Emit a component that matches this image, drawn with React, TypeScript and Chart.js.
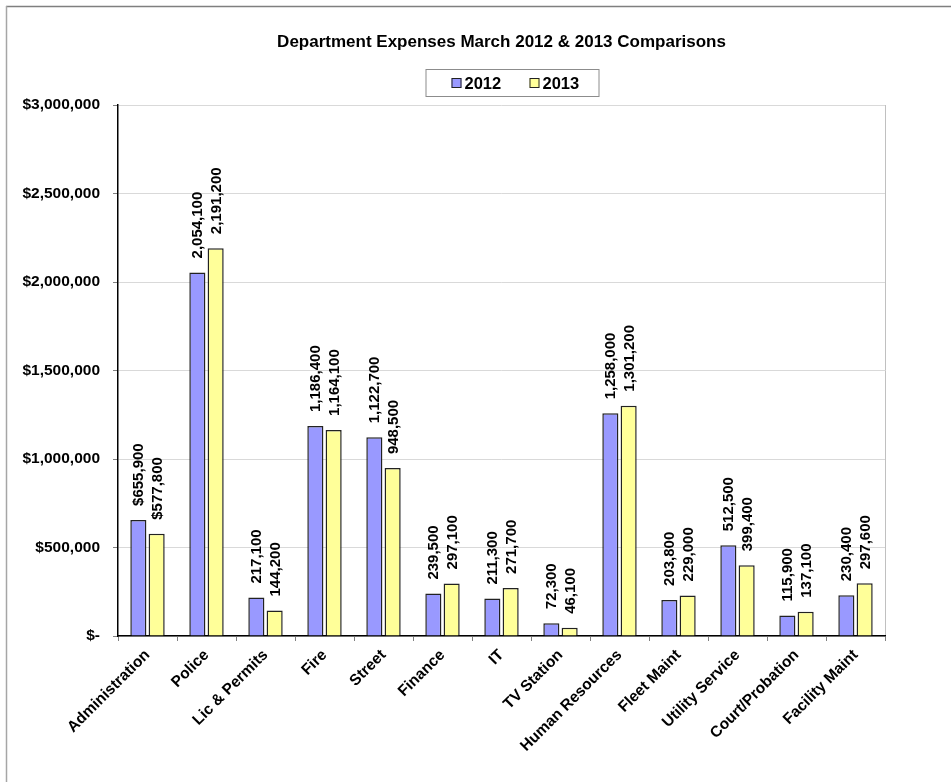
import React, { useEffect, useRef } from "react";
import { Chart, registerables } from "chart.js";

Chart.register(...registerables);

const categories = [
  "Administration",
  "Police",
  "Lic & Permits",
  "Fire",
  "Street",
  "Finance",
  "IT",
  "TV Station",
  "Human Resources",
  "Fleet Maint",
  "Utility Service",
  "Court/Probation",
  "Facility Maint",
];

const values2012 = [655900, 2054100, 217100, 1186400, 1122700, 239500, 211300, 72300, 1258000, 203800, 512500, 115900, 230400];
const values2013 = [577800, 2191200, 144200, 1164100, 948500, 297100, 271700, 46100, 1301200, 229000, 399400, 137100, 297600];

// categories whose data labels are shown in currency format
const currencyLabelCategories = ["Administration"];

const seriesNames = ["2012", "2013"];
const yTickValues = [0, 500000, 1000000, 1500000, 2000000, 2500000, 3000000];

const FONT = "Arial, 'Liberation Sans', sans-serif";

const fmt = (v: number) => v.toLocaleString("en-US");

const framePlugin = {
  id: "frame",
  beforeDraw(chart: any) {
    const { ctx, width, height, chartArea } = chart;
    ctx.save();
    ctx.fillStyle = "#ffffff";
    ctx.fillRect(0, 0, width, height);
    ctx.lineWidth = 1.5;
    ctx.strokeStyle = "#7f7f7f";
    ctx.beginPath();
    ctx.moveTo(6, 6.5);
    ctx.lineTo(width, 6.5);
    ctx.stroke();
    ctx.strokeStyle = "#a6a6a6";
    ctx.beginPath();
    ctx.moveTo(6.5, 6);
    ctx.lineTo(6.5, height);
    ctx.stroke();
    // plot area right border
    ctx.lineWidth = 1;
    ctx.strokeStyle = "#c0c0c0";
    ctx.beginPath();
    ctx.moveTo(chartArea.right + 0.5, chartArea.top);
    ctx.lineTo(chartArea.right + 0.5, chartArea.bottom);
    ctx.stroke();
    ctx.restore();
  },
};

const legendPlugin = {
  id: "boxLegend",
  afterDraw(chart: any) {
    const { ctx } = chart;
    const cx = 512.5;
    const top = 69.5;
    const w = 173;
    const h = 27;
    ctx.save();
    ctx.strokeStyle = "#8c8c8c";
    ctx.lineWidth = 1;
    ctx.strokeRect(cx - w / 2, top, w, h);
    ctx.font = `bold 16.5px ${FONT}`;
    ctx.textBaseline = "middle";
    ctx.textAlign = "left";
    const itemX = [cx - 61, cx + 17];
    chart.data.datasets.forEach((ds: any, i: number) => {
      const x = itemX[i];
      const y = top + h / 2;
      ctx.fillStyle = ds.backgroundColor;
      ctx.fillRect(x, y - 5, 10, 10);
      ctx.strokeStyle = "#222";
      ctx.strokeRect(x + 0.5, y - 4.5, 9, 9);
      ctx.fillStyle = "#000";
      ctx.fillText(ds.label, x + 13, y + 1);
    });
    ctx.restore();
  },
};

const dataLabelPlugin = {
  id: "dataLabels",
  afterDatasetsDraw(chart: any) {
    const { ctx } = chart;
    ctx.save();
    ctx.font = `bold 15px ${FONT}`;
    ctx.fillStyle = "#000";
    ctx.textAlign = "left";
    ctx.textBaseline = "middle";
    chart.data.datasets.forEach((ds: any, di: number) => {
      const meta = chart.getDatasetMeta(di);
      meta.data.forEach((el: any, i: number) => {
        const v = ds.data[i];
        const cat = chart.data.labels[i];
        const txt = (currencyLabelCategories.includes(cat) ? "$" : "") + fmt(v);
        ctx.save();
        ctx.translate(el.x + 1, el.y - 14);
        ctx.rotate(-Math.PI / 2);
        ctx.fillText(txt, 0, 0);
        ctx.restore();
      });
    });
    ctx.restore();
  },
};

export default function App() {
  const ref = useRef<HTMLCanvasElement | null>(null);

  useEffect(() => {
    document.body.style.margin = "0";
    if (!ref.current) return;
    const chart = new Chart(ref.current, {
      type: "bar",
      data: {
        labels: categories,
        datasets: [
          {
            label: seriesNames[0],
            data: values2012,
            backgroundColor: "#9999ff",
            borderColor: "#222222",
            borderWidth: 1.5,
            categoryPercentage: 0.62,
            barPercentage: 0.88,
          },
          {
            label: seriesNames[1],
            data: values2013,
            backgroundColor: "#ffff99",
            borderColor: "#222222",
            borderWidth: 1.5,
            categoryPercentage: 0.62,
            barPercentage: 0.88,
          },
        ],
      },
      options: {
        animation: false,
        responsive: false,
        maintainAspectRatio: false,
        devicePixelRatio: 1,
        layout: { padding: { top: 0, right: 66, bottom: 0, left: 0 } },
        plugins: {
          legend: { display: false },
          tooltip: { enabled: false },
          title: {
            display: true,
            fullSize: false,
            text: "Department Expenses March 2012 & 2013 Comparisons",
            color: "#000",
            font: { family: FONT, size: 17, weight: "bold", lineHeight: 1.2 },
            padding: { top: 32.5, bottom: 52.1 },
          },
        },
        scales: {
          x: {
            afterFit(scale: any) {
              scale.height = 146;
            },
            grid: {
              display: true,
              drawOnChartArea: false,
              drawTicks: true,
              tickLength: 5,
              tickColor: "#808080",
              offset: true,
            },
            border: { display: true, color: "#000", width: 1.5 },
            ticks: {
              autoSkip: false,
              maxRotation: 45,
              minRotation: 45,
              padding: 5,
              color: "#000",
              font: { family: FONT, size: 15.5, weight: "bold" },
            },
          },
          y: {
            min: 0,
            max: 3000000,
            afterFit(scale: any) {
              scale.width = 118;
            },
            afterBuildTicks(scale: any) {
              scale.ticks = yTickValues.map((v) => ({ value: v }));
            },
            grid: {
              color: "#d9d9d9",
              tickColor: "#808080",
              tickLength: 5,
              lineWidth: 1,
            },
            border: { display: true, color: "#000", width: 1.5 },
            ticks: {
              padding: 13,
              color: "#000",
              font: { family: FONT, size: 15.5, weight: "bold" },
              callback: (v: any) => (Number(v) === 0 ? "$-" : "$" + fmt(Number(v))),
            },
          },
        },
      },
      plugins: [framePlugin, legendPlugin, dataLabelPlugin],
    });
    return () => chart.destroy();
  }, []);

  return <canvas ref={ref} width={951} height={782} style={{ display: "block" }} />;
}
